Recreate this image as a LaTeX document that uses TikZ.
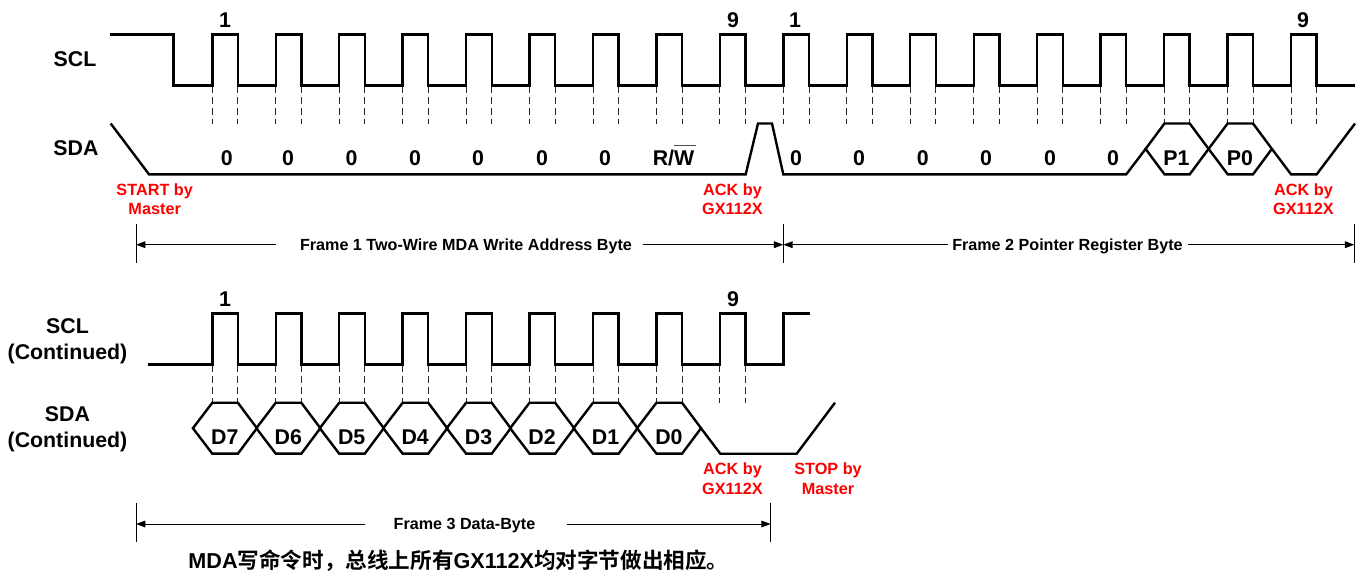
\documentclass[tikz,border=0pt]{standalone}
\usepackage{fontspec}
\setmainfont{Liberation Sans}
\newfontfamily\cjkfont[BoldFont=Noto Sans CJK SC Bold]{Noto Sans CJK SC}
\usetikzlibrary{arrows.meta}
\definecolor{ackred}{RGB}{255,0,0}
\tikzset{
  sig/.style={line width=1.8pt,line join=miter,line cap=butt},
  guide/.style={line width=0.65pt,dash pattern=on 5.2pt off 2.8pt,black!85},
  bar/.style={line width=0.75pt},
  dim/.style={line width=0.75pt,-{Triangle[length=7pt,width=5pt]}},
  big/.style={inner sep=0pt,font=\bfseries\fontsize{16}{19.5}\selectfont,text height=11.5pt,text depth=0pt},
  lab/.style={inner sep=0pt,font=\bfseries\fontsize{16}{19.5}\selectfont,align=center},
  redlab/.style={inner sep=0pt,text=ackred,font=\bfseries\fontsize{12.2}{14.6}\selectfont,align=center},
  frm/.style={inner sep=0pt,font=\bfseries\fontsize{12.1}{14}\selectfont,text height=8.7pt,text depth=0pt},
}
\newcommand{\hexsig}[5]{% left vertex x, top-left x, top-right x, right vertex x, mid y
  \draw[sig] (#1,{(#5)}) -- (#2,{(#5)-25.45}) -- (#3,{(#5)-25.45}) -- (#4,{(#5)}) -- (#3,{(#5)+25.45}) -- (#2,{(#5)+25.45}) -- cycle;}
\begin{document}
\begin{tikzpicture}[x=0.75pt,y=-0.75pt]
\useasboundingbox (0,0) rectangle (1364,572);
\fill[white] (0,0) rectangle (1364,572);
% ---- first row: SCL
\draw[sig] (110,34.3) -- (173.3,34.3) -- (173.3,85.3)
  \foreach \k in {0,...,17} { -- ({212.3+63.45*\k},85.3) -- ({212.3+63.45*\k},34.3) -- ({237.9+63.45*\k},34.3) -- ({237.9+63.45*\k},85.3) }
  -- (1355,85.3);
\foreach \k in {0,...,17} {
  \draw[guide] ({212.3+63.45*\k},86.5) -- ({212.3+63.45*\k},123.5);
  \draw[guide] ({237.9+63.45*\k},86.5) -- ({237.9+63.45*\k},123.5);
}
% ---- first row: SDA
\draw[sig] (110.7,123.5) -- (149,174.3) -- (745.7,174.3) -- (758,123.5) -- (772,123.5) -- (783.3,174.3)
  -- (1126.3,174.3) -- (1145.6,148.9);
\hexsig{1145.6}{1164.5}{1189.7}{1208.6}{148.9}
\hexsig{1208.6}{1227.7}{1253.0}{1271.9}{148.9}
\draw[sig] (1271.9,148.9) -- (1291,174.3) -- (1316.7,174.3) -- (1355,123.5);
% ---- second row: SCL
\draw[sig] (148.3,364.3)
  \foreach \k in {0,...,8} { -- ({212.3+63.45*\k},364.3) -- ({212.3+63.45*\k},313.3) -- ({237.9+63.45*\k},313.3) -- ({237.9+63.45*\k},364.3) }
  -- (783.3,364.3) -- (783.3,313.3) -- (809.5,313.3);
\foreach \k in {0,...,8} {
  \draw[guide] ({212.3+63.45*\k},365.5) -- ({212.3+63.45*\k},402.7);
  \draw[guide] ({237.9+63.45*\k},365.5) -- ({237.9+63.45*\k},402.7);
}
% ---- second row: SDA
\foreach \k in {0,...,7} {
  \hexsig{{192.9+63.45*\k}}{{212.3+63.45*\k}}{{237.9+63.45*\k}}{{256.9+63.45*\k}}{428.2}
}
\draw[sig] (701,428.2) -- (720.3,453.7) -- (796.7,453.7) -- (835,402.7);
% ---- signal names
\node[lab] (sclA) at (75,59) {SCL};
\node[lab] (sdaA) at (76,148) {SDA};
\node[lab] (sclB) at (67.5,341.5) {SCL\\(Continued)};
\node[lab] (sdaB) at (67.5,429.5) {SDA\\(Continued)};
% ---- clock numbers
\node[big] (n1) at (225,20) {1};
\node[big] (n2) at (733,20) {9};
\node[big] (n3) at (795,20) {1};
\node[big] (n4) at (1303,20) {9};
\node[big] (n5) at (225,299) {1};
\node[big] (n6) at (733,299) {9};
% ---- bits
\foreach \x/\n in {226.7/a,288/b,351.5/c,415/d,478/e,542/f,605/g,796/h,859/i,922.7/j,986/k,1050/l,1113/m}
  \node[big] (bit\n) at (\x,157.7) {0};
\node[big] (rw) at (673.5,157.7) {R/\makebox[0pt][l]{\raisebox{14.6pt}{\color{black!70}\rule{16.2pt}{0.8pt}}}W};
\node[big] (p1) at (1176.5,157.7) {P1};
\node[big] (p0) at (1240,157.7) {P0};
\foreach \lbl [count=\i from 0] in {D7,D6,D5,D4,D3,D2,D1,D0}
  \node[big] (d\i) at ({224.8+63.45*\i},437.3) {\lbl};
% ---- red notes
\node[redlab] (start) at (154.7,199) {START by\\Master};
\node[redlab] (ack1) at (732.5,199) {ACK by\\GX112X};
\node[redlab] (ack2) at (1303.5,199) {ACK by\\GX112X};
\node[redlab] (ack3) at (732.5,478.5) {ACK by\\GX112X};
\node[redlab] (stop) at (828,478.5) {STOP by\\Master};
% ---- frame brackets
\coordinate (b1t) at (136,224.3); \coordinate (b1b) at (136,263.3);
\coordinate (b2t) at (783.3,224.3); \coordinate (b2b) at (783.3,263.3);
\coordinate (b3t) at (1354.3,224.3); \coordinate (b3b) at (1354.3,263.3);
\coordinate (b4t) at (136,503.3); \coordinate (b4b) at (136,542.3);
\coordinate (b5t) at (770.7,503.3); \coordinate (b5b) at (770.7,542.3);
\draw[bar] (b1t) -- (b1b);
\draw[bar] (b2t) -- (b2b);
\draw[bar] (b3t) -- (b3b);
\draw[bar] (b4t) -- (b4b);
\draw[bar] (b5t) -- (b5b);
\node[frm] (f1) at (466,244.7) {Frame 1 Two-Wire MDA Write Address Byte};
\node[frm] (f2) at (1067.5,244.7) {Frame 2 Pointer Register Byte};
\node[frm] (f3) at (464.5,524) {Frame 3 Data-Byte};
\coordinate (a1) at (136,244.7); \coordinate (a2) at (276,244.7);
\coordinate (a3) at (643.3,244.7); \coordinate (a4) at (783.3,244.7);
\coordinate (a5) at (948,244.7); \coordinate (a6) at (1187.7,244.7);
\coordinate (a7) at (1354.3,244.7);
\coordinate (a8) at (136,524); \coordinate (a9) at (365,524);
\coordinate (a10) at (566.7,524); \coordinate (a11) at (770.7,524);
\draw[dim] (a2) -- (a1);
\draw[dim] (a3) -- (a4);
\draw[dim] (a5) -- (a4);
\draw[dim] (a6) -- (a7);
\draw[dim] (a9) -- (a8);
\draw[dim] (a10) -- (a11);
% ---- caption
\node[inner sep=0pt,font=\bfseries\fontsize{16.2}{19}\selectfont] (cap) at (458.5,561)
  {MDA{\cjkfont 写命令时，总线上所有}GX112X{\cjkfont 均对字节做出相应。}};
\end{tikzpicture}
\end{document}
